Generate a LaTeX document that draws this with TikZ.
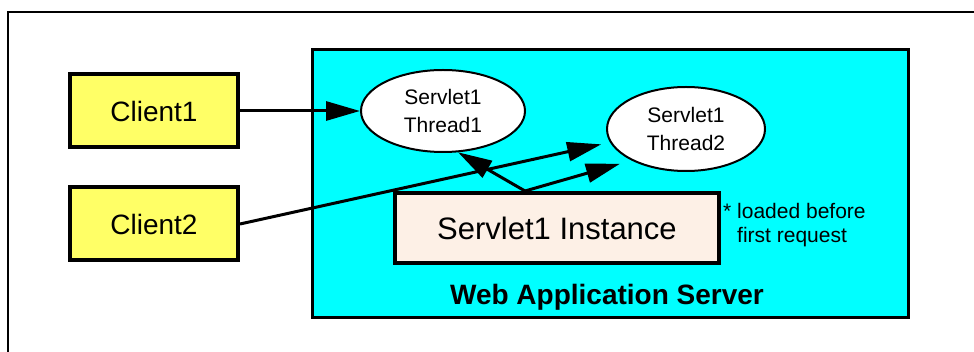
\documentclass[tikz,border=0pt]{standalone}
\usepackage{fontspec}
\setmainfont{Liberation Sans}
\usepackage{tikz}
\usetikzlibrary{positioning,shapes.geometric,arrows.meta}
\definecolor{clientyellow}{RGB}{255,255,102}
\definecolor{servercyan}{RGB}{0,255,255}
\definecolor{instlinen}{RGB}{253,240,230}

\begin{document}
\begin{tikzpicture}[x=1pt, y=1pt, node distance={113pt}, >={Triangle[length=34pt,width=19pt]},
  client/.style = {draw, line width=4pt, fill=clientyellow, minimum width=168pt, minimum height=73pt, font=\fontsize{28}{32}\selectfont},
  thread/.style = {draw, ellipse, line width=2pt, fill=white, inner sep=0pt, align=center, font=\fontsize{21}{27.5}\selectfont},
  server/.style = {draw, line width=3pt, fill=servercyan, minimum width=596pt, minimum height=268pt},
  inst/.style = {draw, line width=4pt, fill=instlinen, minimum width=324pt, minimum height=70pt, font=\fontsize{31}{34}\selectfont},
  conn/.style = {->, line width=3pt}]
\useasboundingbox (0,0) rectangle (974,-352);
% outer frame
\draw[line width=2pt] (8,-352) -- (8,-12) -- (974,-12);
% server
\node[server] (was) at (610,-184) {};
\node[anchor=base, font=\fontsize{28}{30}\selectfont\bfseries] (waslabel) at (607,-305) {Web Application Server};
% clients
\node[client] (c1) at (154,-111) {Client1};
\node[client] (c2) [below of=c1] {Client2};
% threads and instance
\node[thread, minimum width=164pt, minimum height=82pt] (t1) at (443,-111) {Servlet1\\Thread1};
\node[thread, minimum width=158pt, minimum height=84pt] (t2) at (686,-129) {Servlet1\\Thread2};
\node[inst] (inst) at (557,-228) {Servlet1 Instance};
\node[anchor=north west, inner sep=0pt, align=left, font=\fontsize{21}{24}\selectfont] (note) at (723,-203) {* loaded before\\\phantom{* }first request};
\coordinate (fork) at ([xshift=-32pt]inst.north);
% requests
\draw[conn] (c1.east) -- (t1.west);
\draw[conn, shorten >=9pt] (c2.east) -- (t2.190);
\draw[conn] (fork) -- (t1.290);
\draw[conn, shorten >=12pt] (fork) -- (t2.210);
\end{tikzpicture}
\end{document}
